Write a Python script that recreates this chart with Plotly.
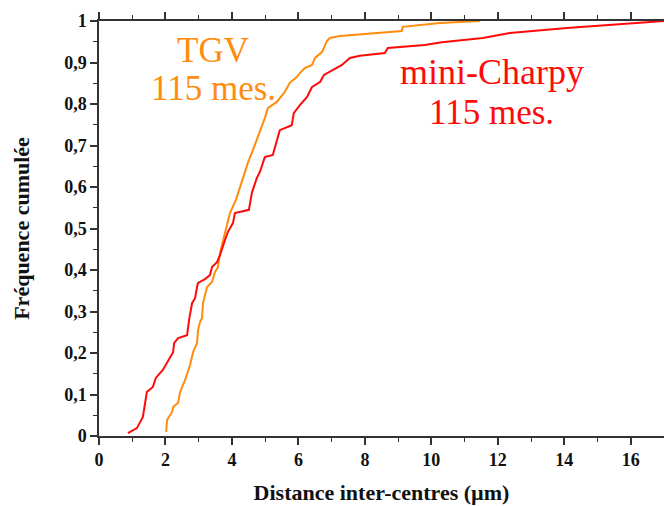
import plotly.graph_objects as go

# mini-Charpy (red) cumulative distribution
charpy_x = [0.87, 1.14, 1.32, 1.44, 1.62, 1.71, 1.92, 2.14, 2.23, 2.26, 2.38, 2.65, 2.71, 2.80,
            2.89, 2.95, 2.98, 3.19, 3.34, 3.40, 3.55, 3.64, 3.73, 3.79, 3.88, 4.03, 4.09, 4.51,
            4.60, 4.75, 4.84, 4.99, 5.23, 5.35, 5.44, 5.80, 5.86, 6.05, 6.26, 6.41, 6.65, 6.77,
            7.04, 7.31, 7.55, 7.85, 8.60, 8.69, 9.80, 10.32, 11.55, 12.36, 14.08, 16.06, 17.0]
charpy_y = [0.007, 0.019, 0.046, 0.106, 0.118, 0.140, 0.159, 0.190, 0.202, 0.224, 0.236, 0.243,
            0.280, 0.320, 0.332, 0.359, 0.369, 0.378, 0.388, 0.407, 0.419, 0.436, 0.460, 0.472,
            0.492, 0.513, 0.537, 0.545, 0.586, 0.622, 0.636, 0.672, 0.677, 0.713, 0.737, 0.749,
            0.778, 0.798, 0.817, 0.841, 0.853, 0.870, 0.882, 0.894, 0.911, 0.916, 0.923, 0.935,
            0.942, 0.949, 0.959, 0.971, 0.983, 0.995, 1.0]

# TGV (orange) cumulative distribution
tgv_x = [2.02, 2.05, 2.20, 2.23, 2.38, 2.44, 2.59, 2.74, 2.83, 2.95, 2.98, 3.04, 3.10, 3.13,
         3.25, 3.40, 3.49, 3.58, 3.64, 3.73, 3.85, 3.94, 4.12, 4.24, 4.33, 4.48, 4.63, 4.84,
         4.99, 5.08, 5.35, 5.59, 5.74, 5.95, 6.05, 6.20, 6.41, 6.50, 6.71, 6.86, 6.95, 7.25,
         7.94, 8.54, 9.11, 9.14, 10.26, 11.46]
tgv_y = [0.010, 0.039, 0.058, 0.070, 0.080, 0.106, 0.135, 0.171, 0.202, 0.224, 0.255, 0.275,
         0.284, 0.320, 0.359, 0.371, 0.395, 0.407, 0.441, 0.472, 0.513, 0.537, 0.569, 0.600,
         0.622, 0.658, 0.689, 0.733, 0.766, 0.790, 0.805, 0.829, 0.851, 0.865, 0.875, 0.887,
         0.894, 0.911, 0.925, 0.952, 0.959, 0.964, 0.969, 0.973, 0.976, 0.986, 0.995, 1.000]

x_ticks = [0, 2, 4, 6, 8, 10, 12, 14, 16]
y_ticks = [0, 0.1, 0.2, 0.3, 0.4, 0.5, 0.6, 0.7, 0.8, 0.9, 1]
y_labels = ["0", "0,1", "0,2", "0,3", "0,4", "0,5", "0,6", "0,7", "0,8", "0,9", "1"]

ORANGE = "#ff8c0f"
RED = "#ff0a0a"
FONT = "Liberation Serif"
AX = "#333333"

fig = go.Figure()
fig.add_trace(go.Scatter(x=tgv_x, y=tgv_y, mode="lines", line=dict(color=ORANGE, width=2),
                         name="TGV", showlegend=False))
fig.add_trace(go.Scatter(x=charpy_x, y=charpy_y, mode="lines", line=dict(color=RED, width=2),
                         name="mini-Charpy", showlegend=False))

fig.update_layout(
    width=664, height=506,
    margin=dict(l=99, r=0, t=21, b=70, autoexpand=False),
    plot_bgcolor="white", paper_bgcolor="white",
    font=dict(family=FONT, color="#111111"),
    xaxis=dict(
        range=[0, 17], tickvals=x_ticks, ticks="outside", ticklen=7, tickwidth=1.5,
        tickcolor=AX, showline=True, linecolor=AX, linewidth=1.5, mirror="ticks",
        showgrid=False, zeroline=False, automargin=False,
        tickfont=dict(family=FONT, size=18, color="#111111", weight="bold"),
        minor=dict(dtick=1, ticks="outside", ticklen=4, tickwidth=1.2, tickcolor=AX, showgrid=False),
        title=dict(text="<b>Distance inter-centres (µm)</b>",
                   font=dict(family=FONT, size=22, color="#111111"), standoff=15),
    ),
    yaxis=dict(
        range=[0, 1], tickvals=y_ticks, ticktext=y_labels, ticks="outside", ticklen=7,
        tickwidth=1.5, tickcolor=AX, showline=True, linecolor=AX, linewidth=1.5,
        mirror="ticks", showgrid=False, zeroline=False, automargin=False,
        tickfont=dict(family=FONT, size=18, color="#111111", weight="bold"),
        minor=dict(dtick=0.05, ticks="outside", ticklen=4, tickwidth=1.2, tickcolor=AX, showgrid=False),
        title=dict(text="<b>Fréquence cumulée</b>",
                   font=dict(family=FONT, size=22, color="#111111"), standoff=28),
    ),
)

fig.add_annotation(x=3.43, y=0.93, xref="x", yref="y", text="TGV", yanchor="middle",
                   showarrow=False, font=dict(family=FONT, size=35, color=ORANGE))
fig.add_annotation(x=3.43, y=0.838, xref="x", yref="y", text="115 mes.", yanchor="middle",
                   showarrow=False, font=dict(family=FONT, size=35, color=ORANGE))
fig.add_annotation(x=11.82, y=0.876, xref="x", yref="y", text="mini-Charpy", yanchor="middle",
                   showarrow=False, font=dict(family=FONT, size=36, color=RED))
fig.add_annotation(x=11.82, y=0.78, xref="x", yref="y", text="115 mes.", yanchor="middle",
                   showarrow=False, font=dict(family=FONT, size=35, color=RED))

fig.write_html("out.html", config={"displayModeBar": False},
               post_script="document.body.style.margin='0px';")
